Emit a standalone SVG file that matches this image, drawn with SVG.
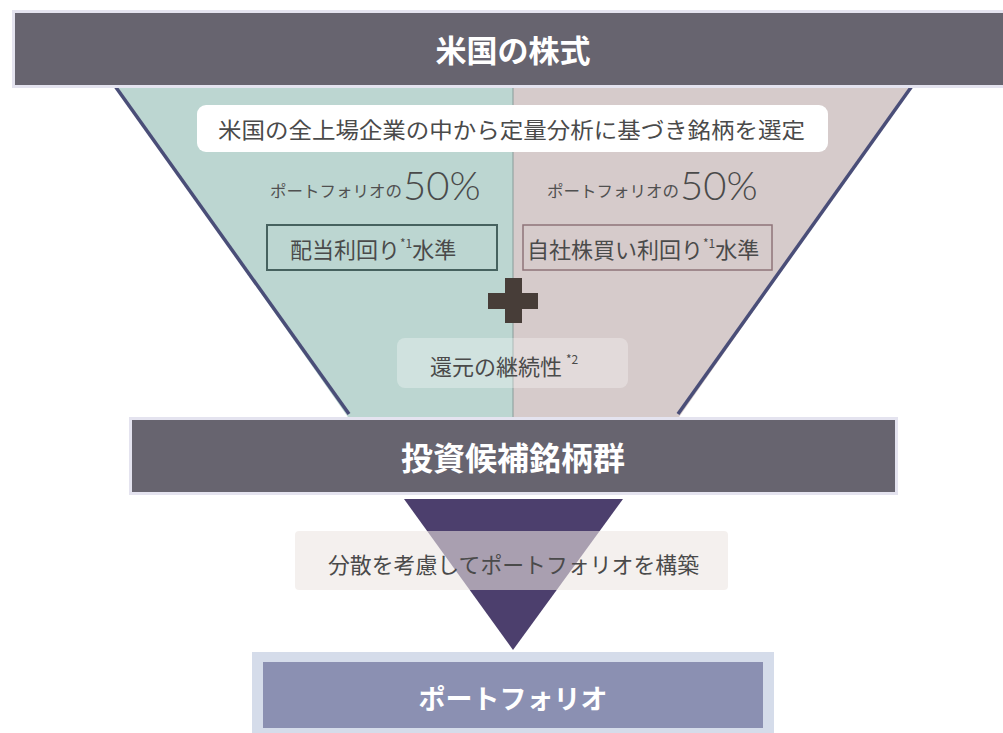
<svg xmlns="http://www.w3.org/2000/svg" width="1003" height="733" viewBox="0 0 1003 733">
  <style>
    .jp { font-family: "Noto Sans CJK JP", "Noto Sans CJK SC", sans-serif; }
    .hdr { fill: #ffffff; font-weight: 700; text-anchor: middle; dominant-baseline: central; }
    .body { fill: #4a4a4a; font-size: 22px; dominant-baseline: central; }
    .halo { fill: #e4e3ef; }
    .bar { fill: #67646f; }
    .sup { font-size: 12px; }
    .pct { font-family: Lato, "Open Sans", sans-serif; font-weight: 300; font-size: 40px; fill: #4a4a4a; }
    .small { font-size: 16px; fill: #505050; }
  </style>

  <rect x="0" y="0" width="1003" height="733" fill="#ffffff"/>

  <g id="funnel">
    <polygon points="117,88 513,88 513,420 350,420" fill="#bcd6d1"/>
    <polygon points="513,88 910,88 677,420 513,420" fill="#d6cbcb"/>
    <line x1="513" y1="88" x2="513" y2="420" stroke="#889c99" stroke-width="1"/>
    <line x1="115" y1="86" x2="349" y2="414" stroke="#4a4e78" stroke-width="3.5"/>
    <line x1="912" y1="86" x2="678" y2="414" stroke="#4a4e78" stroke-width="3.5"/>
  </g>

  <g id="us-stocks">
    <rect class="halo" x="12" y="10" width="991" height="78"/>
    <rect class="bar" x="15" y="13" width="988" height="72"/>
    <text class="jp hdr" x="513" y="48" font-size="31">米国の株式</text>
  </g>

  <g id="selection">
    <rect x="197" y="105" width="631" height="47" rx="9" fill="#ffffff"/>
    <text class="jp body" x="218" y="128" textLength="587" lengthAdjust="spacingAndGlyphs">米国の全上場企業の中から定量分析に基づき銘柄を選定</text>
  </g>

  <g id="left-50">
    <text class="jp small" x="270" y="190" textLength="132" lengthAdjust="spacingAndGlyphs" dominant-baseline="central">ポートフォリオの</text>
    <text class="pct" x="403" y="200">50%</text>
  </g>
  <g id="right-50">
    <text class="jp small" x="547" y="190" textLength="132" lengthAdjust="spacingAndGlyphs" dominant-baseline="central">ポートフォリオの</text>
    <text class="pct" x="680" y="200">50%</text>
  </g>

  <g id="dividend">
    <rect x="267" y="225" width="230" height="45" fill="none" stroke="#46625f" stroke-width="2"/>
    <text class="jp body" x="290" y="248">配当利回り<tspan class="sup" dy="-6">*1</tspan><tspan dy="6">水準</tspan></text>
  </g>

  <g id="buyback">
    <rect x="523" y="225" width="249" height="45" fill="none" stroke="#8f7479" stroke-width="1.5"/>
    <text class="jp body" x="527" y="248">自社株買い利回り<tspan class="sup" dy="-6">*1</tspan><tspan dy="6">水準</tspan></text>
  </g>

  <g id="plus">
    <rect x="488" y="293" width="50" height="16" fill="#473d38"/>
    <rect x="505" y="278" width="17" height="45" fill="#473d38"/>
  </g>

  <g id="continuity">
    <rect x="397" y="338" width="231" height="50" rx="8" fill="#ffffff" fill-opacity="0.3"/>
    <text class="jp body" x="430" y="365">還元の継続性<tspan class="sup" dx="4" dy="-7">*2</tspan></text>
  </g>

  <g id="candidates">
    <rect class="halo" x="129" y="417" width="769" height="78"/>
    <rect class="bar" x="132" y="420" width="763" height="72"/>
    <text class="jp hdr" x="513" y="456" font-size="32">投資候補銘柄群</text>
  </g>

  <g id="lower-funnel">
    <polygon points="404,499 623,499 513,650" fill="#4c3f6d"/>
  </g>

  <g id="diversify">
    <rect x="295" y="531" width="433" height="59" rx="4" fill="#ece5e2" fill-opacity="0.58"/>
    <text class="jp body" x="328" y="563" font-size="21" fill="#555555" textLength="371" lengthAdjust="spacingAndGlyphs">分散を考慮してポートフォリオを構築</text>
  </g>

  <g id="portfolio">
    <rect x="252" y="652" width="522" height="81" fill="#d5dcea"/>
    <rect x="263" y="662" width="500" height="66" fill="#8b90b2"/>
    <text class="jp hdr" x="513" y="697" font-size="27">ポートフォリオ</text>
  </g>

  <g id="connectors"/>
</svg>
